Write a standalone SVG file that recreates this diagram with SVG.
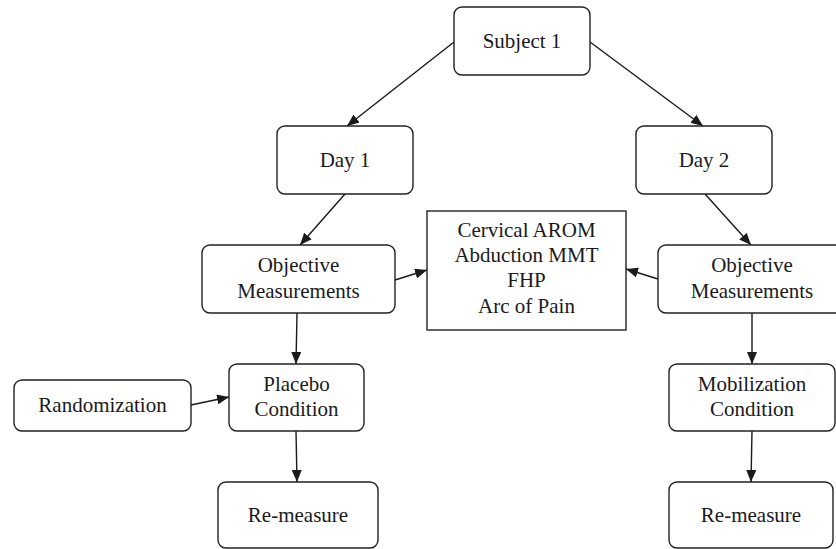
<svg xmlns="http://www.w3.org/2000/svg" width="836" height="549" viewBox="0 0 836 549">
<defs>
<style>
.n{fill:#fff;stroke:#222;stroke-width:1.4}
.t{font-family:'Liberation Serif','Times New Roman',Tinos,'DejaVu Serif',serif;font-size:21px;fill:#1a1a1a;text-anchor:middle}
.c{stroke:#1a1a1a;stroke-width:1.4;fill:none;marker-end:url(#ah)}
</style>
<marker id="ah" viewBox="0 0 12 10" refX="12" refY="5" markerWidth="12" markerHeight="10" markerUnits="userSpaceOnUse" orient="auto">
<path d="M0,0 L12,5 L0,10 z" fill="#1a1a1a"/>
</marker>
</defs>
<rect width="836" height="549" fill="#fff"/>
<g id="connectors">
<line class="c" x1="454" y1="42" x2="347" y2="126"/>
<line class="c" x1="590" y1="42" x2="703" y2="126"/>
<line class="c" x1="345" y1="194" x2="300" y2="245"/>
<line class="c" x1="705" y1="194" x2="751" y2="245"/>
<line class="c" x1="395" y1="280" x2="427" y2="270"/>
<line class="c" x1="658" y1="279" x2="626" y2="269"/>
<line class="c" x1="297" y1="313" x2="296" y2="364"/>
<line class="c" x1="191" y1="405" x2="229" y2="397"/>
<line class="c" x1="296" y1="431" x2="297" y2="482"/>
<line class="c" x1="752" y1="313" x2="752" y2="364"/>
<line class="c" x1="752" y1="431" x2="751" y2="482"/>
</g>
<g id="subject1">
<rect class="n" x="454" y="7" width="136" height="68" rx="8"/>
<text class="t" x="522" y="48" font-family="Liberation Serif, serif">Subject 1</text>
</g>
<g id="day1">
<rect class="n" x="277" y="126" width="136" height="68" rx="8"/>
<text class="t" x="345" y="167">Day 1</text>
</g>
<g id="day2">
<rect class="n" x="636" y="126" width="136" height="68" rx="8"/>
<text class="t" x="704" y="167">Day 2</text>
</g>
<g id="measures">
<rect class="n" x="427" y="211" width="199" height="119"/>
<text class="t" x="526.5" y="237">Cervical AROM</text>
<text class="t" x="526.5" y="262">Abduction MMT</text>
<text class="t" x="526.5" y="287">FHP</text>
<text class="t" x="526.5" y="313">Arc of Pain</text>
</g>
<g id="objective1">
<rect class="n" x="202" y="245" width="193" height="68" rx="8"/>
<text class="t" x="298.5" y="272">Objective</text>
<text class="t" x="298.5" y="298">Measurements</text>
</g>
<g id="objective2">
<rect class="n" x="658" y="245" width="190" height="68" rx="8"/>
<text class="t" x="752" y="272">Objective</text>
<text class="t" x="752" y="298">Measurements</text>
</g>
<g id="randomization">
<rect class="n" x="14" y="380" width="177" height="51" rx="8"/>
<text class="t" x="102.5" y="412">Randomization</text>
</g>
<g id="placebo">
<rect class="n" x="229" y="364" width="135" height="67" rx="8"/>
<text class="t" x="296.5" y="391">Placebo</text>
<text class="t" x="296.5" y="416">Condition</text>
</g>
<g id="mobilization">
<rect class="n" x="669" y="364" width="166" height="67" rx="8"/>
<text class="t" x="752" y="391">Mobilization</text>
<text class="t" x="752" y="416">Condition</text>
</g>
<g id="remeasure1">
<rect class="n" x="218" y="482" width="160" height="66" rx="8"/>
<text class="t" x="298" y="522">Re-measure</text>
</g>
<g id="remeasure2">
<rect class="n" x="669" y="482" width="164" height="66" rx="8"/>
<text class="t" x="751" y="522">Re-measure</text>
</g>
</svg>
